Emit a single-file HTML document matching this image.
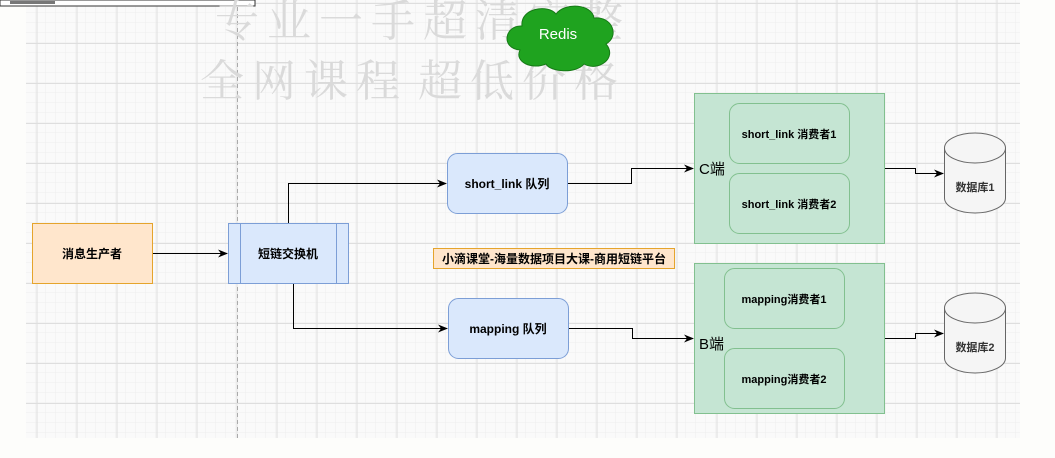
<!DOCTYPE html>
<html><head><meta charset="utf-8"><style>
html,body{margin:0;padding:0;background:#fdfdfb;}
body{width:1055px;height:458px;overflow:hidden;position:relative;}
svg{position:absolute;left:0;top:0;}
text{font-family:"Liberation Sans","Noto Sans CJK SC",sans-serif;}
.wm{font-family:"Noto Serif CJK SC",serif;font-size:44px;fill:#dadada;letter-spacing:8px;}
</style></head><body>
<svg width="1055" height="458" viewBox="0 0 1055 458">
<defs>
<pattern id="minor" x="26" y="3" width="10" height="10" patternUnits="userSpaceOnUse"><path d="M10 0V10M0 10H10" stroke="#eeeeee" stroke-width="1" fill="none"/></pattern>
<pattern id="major" x="-3.5" y="3" width="40" height="40" patternUnits="userSpaceOnUse"><path d="M0.5 0V40M0 0.5H40" stroke="#dedede" stroke-width="1" fill="none"/></pattern>
<marker id="ar" markerWidth="10" markerHeight="10" refX="9" refY="5" orient="auto" markerUnits="userSpaceOnUse"><path d="M0,1 L10,5 L0,9 L3,5 Z" fill="#000"/></marker>
</defs>
<rect x="26" y="0" width="994" height="438" fill="#fafafa"/>
<rect x="26" y="0" width="994" height="438" fill="url(#minor)"/>
<rect x="26" y="0" width="994" height="438" fill="url(#major)"/>
<line x1="237.5" y1="0" x2="237.5" y2="438" stroke="#aaa" stroke-dasharray="4 3"/>
<rect x="0" y="0" width="255" height="6" fill="#fff" stroke="#333"/>
<rect x="10" y="1" width="45" height="3" fill="#777"/>
<text class="wm" x="215" y="36">专业一手超清完整</text>
<text class="wm" x="200" y="96">全网课程</text>
<text class="wm" x="418" y="96">超低价格</text>
<g fill="#1fa31f" stroke="#167a16">
<path d="M520,50 C500,48 505,25 522,26 C520,8 548,4 556,14 C565,2 592,4 594,18 C612,16 620,36 606,44 C618,58 598,72 584,64 C576,74 550,72 546,64 C532,70 514,62 520,50 Z"/>
</g>
<text x="558" y="39" font-size="15" fill="#fff" text-anchor="middle">Redis</text>
<rect x="32.5" y="223.5" width="120" height="60" fill="#ffe6cc" stroke="#e5a42c"/>
<text x="92" y="258" font-size="12" font-weight="bold" text-anchor="middle">消息生产者</text>
<rect x="228.5" y="223.5" width="120" height="60" fill="#dae8fc" stroke="#7c9ed6"/>
<line x1="240.5" y1="223.5" x2="240.5" y2="283.5" stroke="#7c9ed6"/>
<line x1="336.5" y1="223.5" x2="336.5" y2="283.5" stroke="#7c9ed6"/>
<text x="288" y="258" font-size="12" font-weight="bold" text-anchor="middle">短链交换机</text>
<g stroke="#000" stroke-width="1" fill="none">
<path d="M153,253.5 H227" marker-end="url(#ar)"/>
<path d="M288.5,223 V183.5 H446" marker-end="url(#ar)"/>
<path d="M293.5,284 V328.5 H447" marker-end="url(#ar)"/>
<path d="M567,183.5 H631.5 V168.5 H693" marker-end="url(#ar)"/>
<path d="M568,328.5 H632.5 V338.5 H693" marker-end="url(#ar)"/>
<path d="M884,168.5 H915.5 V173.5 H943" marker-end="url(#ar)"/>
<path d="M884,338.5 H915.5 V333.5 H943" marker-end="url(#ar)"/>
</g>
<rect x="447.5" y="153.5" width="120" height="60" rx="10" fill="#dae8fc" stroke="#7c9ed6"/>
<text x="507" y="188" font-size="12" font-weight="bold" text-anchor="middle">short_link 队列</text>
<rect x="448.5" y="298.5" width="120" height="60" rx="10" fill="#dae8fc" stroke="#7c9ed6"/>
<text x="508" y="333" font-size="12" font-weight="bold" text-anchor="middle">mapping 队列</text>
<rect x="433.5" y="248.5" width="241" height="20" fill="#ffe6cc" stroke="#e5a42c"/>
<text x="554" y="263" font-size="12" font-weight="bold" text-anchor="middle">小滴课堂-海量数据项目大课-商用短链平台</text>
<rect x="694.5" y="93.5" width="190" height="150" fill="#c5e5d3" stroke="#82c08f"/>
<rect x="729.5" y="103.5" width="120" height="60" rx="10" fill="#c5e5d3" stroke="#82c08f"/>
<rect x="729.5" y="173.5" width="120" height="60" rx="10" fill="#c5e5d3" stroke="#82c08f"/>
<text x="789" y="138" font-size="11" font-weight="bold" text-anchor="middle">short_link 消费者1</text>
<text x="789" y="208" font-size="11" font-weight="bold" text-anchor="middle">short_link 消费者2</text>
<text x="699" y="174" font-size="15">C端</text>
<rect x="694.5" y="263.5" width="190" height="150" fill="#c5e5d3" stroke="#82c08f"/>
<rect x="724.5" y="268.5" width="120" height="60" rx="10" fill="#c5e5d3" stroke="#82c08f"/>
<rect x="724.5" y="348.5" width="120" height="60" rx="10" fill="#c5e5d3" stroke="#82c08f"/>
<text x="784" y="303" font-size="11" font-weight="bold" text-anchor="middle">mapping消费者1</text>
<text x="784" y="383" font-size="11" font-weight="bold" text-anchor="middle">mapping消费者2</text>
<text x="699" y="349" font-size="15">B端</text>
<g fill="#f5f5f5" stroke="#666">
<path d="M944.5,148 V198 A30.5,15 0 0 0 1005.5,198 V148"/>
<ellipse cx="975" cy="148" rx="30.5" ry="15"/>
<path d="M944.5,308 V358 A30.5,15 0 0 0 1005.5,358 V308"/>
<ellipse cx="975" cy="308" rx="30.5" ry="15"/>
</g>
<text x="975" y="191" font-size="11" font-weight="bold" text-anchor="middle" fill="#333">数据库1</text>
<text x="975" y="351" font-size="11" font-weight="bold" text-anchor="middle" fill="#333">数据库2</text>
</svg>
</body></html>
